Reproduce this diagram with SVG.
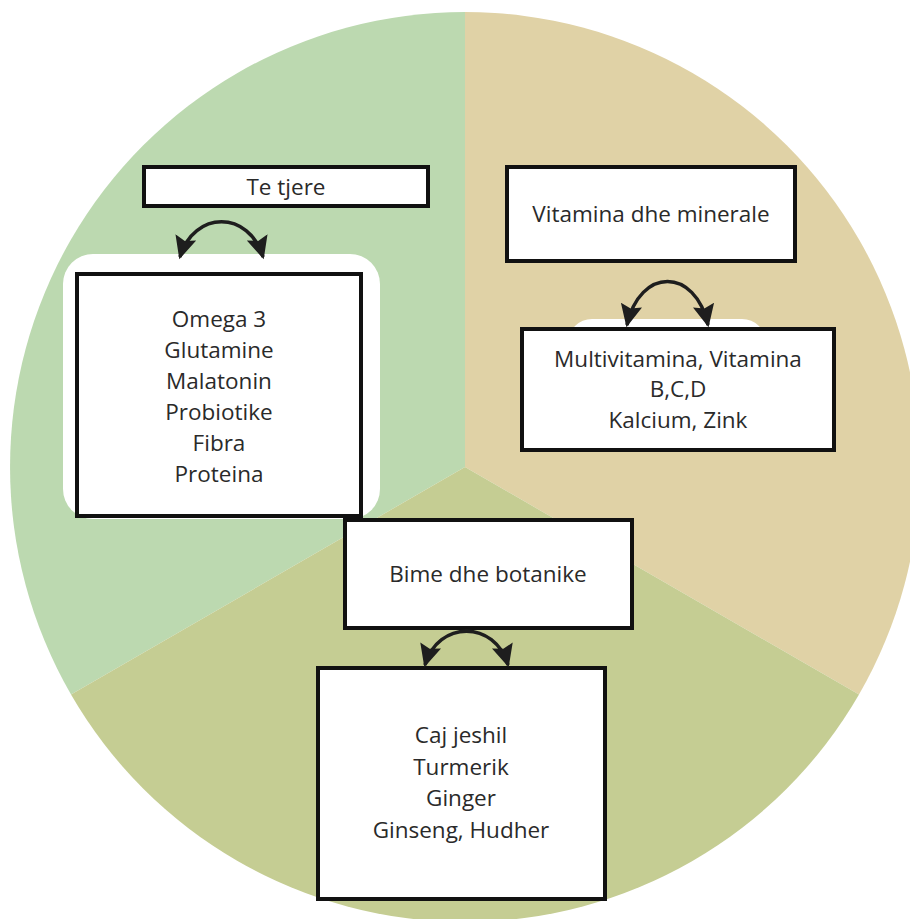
<svg xmlns="http://www.w3.org/2000/svg" width="910" height="919" viewBox="0 0 910 919">
<defs>
<style>
.box{fill:#ffffff;stroke:#111111;stroke-width:4}
.txt{font-family:"Open Sans","Noto Sans","Liberation Sans",sans-serif;font-size:22.5px;fill:#2a2a2a;text-anchor:middle}
.arc{fill:none;stroke:#1e1e1e;stroke-width:3.5}
</style>
<marker id="ah" markerUnits="userSpaceOnUse" markerWidth="24" markerHeight="24" refX="17" refY="9" orient="auto-start-reverse" viewBox="0 0 20 18">
<path d="M0,0 L19,9 L0,18 L3,9 z" fill="#1e1e1e"/>
</marker>
</defs>
<rect width="910" height="919" fill="#ffffff"/>
<g id="pie">
<path d="M465,467 L465,12 A455,455 0 0 0 71,694.5 Z" fill="#bcd9b0"/>
<path d="M465,467 L465,12 A455,455 0 0 1 859,694.5 Z" fill="#e0d2a6"/>
<path d="M465,467 L859,694.5 A455,455 0 0 1 71,694.5 Z" fill="#c5cd93"/>
</g>
<rect x="63" y="254" width="317" height="265" rx="30" fill="#ffffff"/>
<rect x="568" y="319" width="198" height="60" rx="24" fill="#ffffff"/>
<g id="te-tjere">
<rect class="box" x="144" y="167" width="284" height="39"/>
<text class="txt" x="286" y="195">Te tjere</text>
</g>
<g id="te-tjere-list">
<rect class="box" x="77" y="274" width="284" height="242"/>
<text class="txt" x="219" y="327">Omega 3</text>
<text class="txt" x="219" y="358">Glutamine</text>
<text class="txt" x="219" y="389">Malatonin</text>
<text class="txt" x="219" y="420">Probiotike</text>
<text class="txt" x="219" y="451">Fibra</text>
<text class="txt" x="219" y="482">Proteina</text>
</g>
<g id="vitamina">
<rect class="box" x="507" y="167" width="288" height="94"/>
<text class="txt" x="651" y="222">Vitamina dhe minerale</text>
</g>
<g id="vitamina-list">
<rect class="box" x="522" y="329" width="312" height="121"/>
<text class="txt" x="678" y="367">Multivitamina, Vitamina</text>
<text class="txt" x="678" y="397">B,C,D</text>
<text class="txt" x="678" y="428">Kalcium, Zink</text>
</g>
<g id="bime">
<rect class="box" x="345" y="520" width="287" height="108"/>
<text class="txt" x="488" y="582">Bime dhe botanike</text>
</g>
<g id="bime-list">
<rect class="box" x="318" y="668" width="287" height="231"/>
<text class="txt" x="461" y="743">Caj jeshil</text>
<text class="txt" x="461" y="775">Turmerik</text>
<text class="txt" x="461" y="806">Ginger</text>
<text class="txt" x="461" y="838">Ginseng, Hudher</text>
</g>
<g id="connectors">
<path class="arc" d="M180,257 C194,210 249,210 263,257" marker-start="url(#ah)" marker-end="url(#ah)"/>
<path class="arc" d="M627,325 C640,267 695,267 708,325" marker-start="url(#ah)" marker-end="url(#ah)"/>
<path class="arc" d="M425,665 C438,620 495,620 508,665" marker-start="url(#ah)" marker-end="url(#ah)"/>
</g>
</svg>
